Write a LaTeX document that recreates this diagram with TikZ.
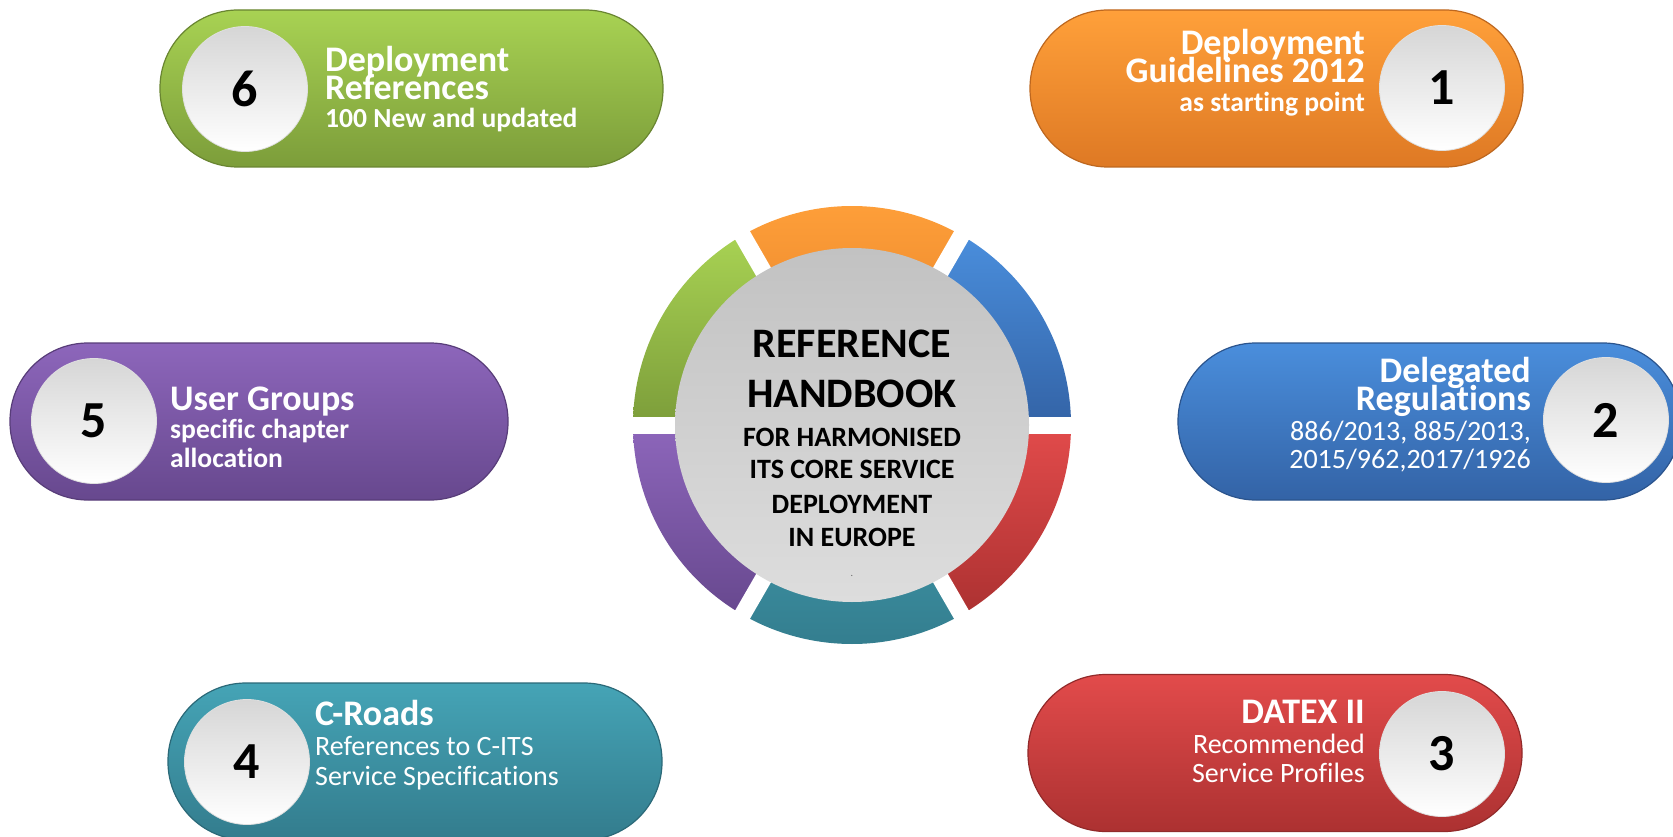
\documentclass[tikz,border=0pt]{standalone}
\usepackage{fontspec}
\setmainfont{Carlito}[Ligatures={NoCommon,NoRequired,NoContextual,NoRare}]
\usetikzlibrary{calc}
\newcommand{\nolg}{\kern0pt }
\definecolor{gT}{HTML}{A8D253}\definecolor{gB}{HTML}{7C9D3A}
\definecolor{oT}{HTML}{FFA03A}\definecolor{oB}{HTML}{DE7924}
\definecolor{bT}{HTML}{4A8EDC}\definecolor{bB}{HTML}{3363A6}
\definecolor{pT}{HTML}{8D66BB}\definecolor{pB}{HTML}{67488E}
\definecolor{tT}{HTML}{45A4B6}\definecolor{tB}{HTML}{337C8D}
\definecolor{rT}{HTML}{E24B4B}\definecolor{rB}{HTML}{AC3131}
\definecolor{hubT}{HTML}{C2C2C2}\definecolor{hubB}{HTML}{DDDDDD}
\definecolor{numT}{HTML}{D6D6D6}
\begin{document}
\begin{tikzpicture}[x=1pt,y=-1pt,
  pill/.style={rectangle, rounded corners=78pt, minimum height=157pt, inner sep=0pt, line width=1.2pt},
  numc/.style={circle, minimum size=125pt, inner sep=0pt, top color=numT, bottom color=white,
    draw=black!12, line width=0.8pt, text=black, font=\fontsize{52}{52}\selectfont\bfseries},
  ttl/.style={inner sep=0pt, text=white, font=\fontsize{36}{36}\selectfont\bfseries},
  subb/.style={inner sep=0pt, text=white, font=\fontsize{27.6}{28}\selectfont\bfseries},
  subr/.style={inner sep=0pt, text=white, font=\fontsize{28}{28}\selectfont},
  hubbig/.style={inner sep=0pt, text=black, font=\fontsize{42}{42}\selectfont\bfseries},
  hubsmall/.style={inner sep=0pt, text=black, font=\fontsize{28}{28}\selectfont\bfseries},
  gap/.style={white, line width=17pt}]
\useasboundingbox (0,0) rectangle (1673,837);
\clip (0,0) rectangle (1673,837);
\fill[white] (0,0) rectangle (1673,837);

% ---------- pills ----------
\node[pill, top color=gT, bottom color=gB, draw=gB!85!black, minimum width=503pt] (p6) at (411.5,88.5) {};
\node[pill, top color=oT, bottom color=oB, draw=oB!85!black, minimum width=493pt] (p1) at (1276.5,88.5) {};
\node[pill, top color=bT, bottom color=bB, draw=bB!85!black, minimum width=503pt] (p2) at (1429.5,421.5) {};
\node[pill, top color=pT, bottom color=pB, draw=pB!85!black, minimum width=498pt] (p5) at (259,421.5) {};
\node[pill, top color=tT, bottom color=tB, draw=tB!85!black, minimum width=494pt] (p4) at (415,761.5) {};
\node[pill, top color=rT, bottom color=rB, draw=rB!85!black, minimum width=494pt] (p3) at (1275,753) {};

% ---------- number circles ----------
\node[numc] (n6) at (245,89) {6};
\node[numc] (n1) at (1442,88) {1};
\node[numc] (n2) at (1606,420) {2};
\node[numc] (n5) at (94,421) {5};
\node[numc] (n4) at (247,762) {4};
\node[numc] (n3) at (1442,754) {3};

% ---------- pill texts ----------
\node[ttl, anchor=base west] (t6a) at (325,72) {Deployment};
\node[ttl, anchor=base west] (t6b) at (325,100) {References};
\node[subb, anchor=base west] (t6c) at (325,128) {100 New and updated};

\node[ttl, anchor=base east] (t1a) at (1365,55) {Deployment};
\node[ttl, anchor=base east] (t1b) at (1365,83) {Guidelines 2012};
\node[subb, anchor=base east] (t1c) at (1365,112) {as start\nolg ing point};

\node[ttl, anchor=base east] (t2a) at (1531,382) {Delegated};
\node[ttl, anchor=base east] (t2b) at (1531,410) {Regulat\nolg ions};
\node[subr, anchor=base east] (t2c) at (1531,440) {886/2013, 885/2013,};
\node[subr, anchor=base east] (t2d) at (1531,468) {2015/962,2017/1926};

\node[ttl, anchor=base west] (t5a) at (170,410) {User Groups};
\node[subb, anchor=base west] (t5b) at (170,438) {specif\nolg ic chapter};
\node[subb, anchor=base west] (t5c) at (170,467) {allocat\nolg ion};

\node[ttl, anchor=base west] (t4a) at (315,725) {C-Roads};
\node[subr, anchor=base west] (t4b) at (315,755) {References to C-ITS};
\node[subr, anchor=base west] (t4c) at (315,785) {Service Specif\nolg icat\nolg ions};

\node[ttl, anchor=base east] (t3a) at (1365,723) {DATEX II};
\node[subr, anchor=base east] (t3b) at (1365,753) {Recommended};
\node[subr, anchor=base east] (t3c) at (1365,782) {Service Prof\nolg iles};

% ---------- central ring ----------
\coordinate (c) at (852,425);
\shade[top color=bT, bottom color=bB] (c) -- ($(c)+(0:219)$) arc[start angle=0, end angle=-60, radius=219] -- cycle;
\shade[top color=oT, bottom color=oB] (c) -- ($(c)+(-60:219)$) arc[start angle=-60, end angle=-120, radius=219] -- cycle;
\shade[top color=gT, bottom color=gB] (c) -- ($(c)+(-120:219)$) arc[start angle=-120, end angle=-180, radius=219] -- cycle;
\shade[top color=pT, bottom color=pB] (c) -- ($(c)+(-180:219)$) arc[start angle=-180, end angle=-240, radius=219] -- cycle;
\shade[top color=tT, bottom color=tB] (c) -- ($(c)+(-240:219)$) arc[start angle=-240, end angle=-300, radius=219] -- cycle;
\shade[top color=rT, bottom color=rB] (c) -- ($(c)+(-300:219)$) arc[start angle=-300, end angle=-360, radius=219] -- cycle;
\draw[gap] ($(c)+(0:230)$) -- ($(c)+(180:230)$);
\draw[gap] ($(c)+(60:230)$) -- ($(c)+(240:230)$);
\draw[gap] ($(c)+(120:230)$) -- ($(c)+(300:230)$);
\node[circle, minimum size=354pt, inner sep=0pt, top color=hubT, bottom color=hubB] (hub) at (c) {};

\node[hubbig, anchor=base] (h1) at (852,357) {REFERENCE};
\node[hubbig, anchor=base] (h2) at (852,407) {HANDBOOK};
\node[hubsmall, anchor=base] (h3) at (852,446) {FOR HARMONISED};
\node[hubsmall, anchor=base] (h4) at (852,478) {ITS CORE SERVICE};
\node[hubsmall, anchor=base] (h5) at (852,513) {DEPLOYMENT};
\node[hubsmall, anchor=base] (h6) at (852,546) {IN EUROPE};
\node[inner sep=0pt, text=black!60, font=\fontsize{10}{10}\selectfont, anchor=base] (h7) at (852,576) {.};
\end{tikzpicture}
\end{document}
